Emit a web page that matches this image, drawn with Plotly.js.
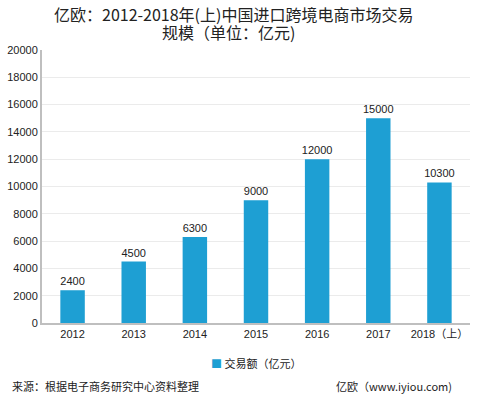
<!DOCTYPE html>
<html><head><meta charset="utf-8">
<script src="https://cdn.plot.ly/plotly-3.0.1.min.js"></script>
<style>body{margin:0;background:#fff}#c{width:482px;height:395px}</style>
</head><body><div id="c"></div>
<script>
const categories = ["2012","2013","2014","2015","2016","2017","2018（上）"];
const values = [2400,4500,6300,9000,12000,15000,10300];
const seriesName = "交易额（亿元）";
const yTicks = [0,2000,4000,6000,8000,10000,12000,14000,16000,18000,20000];
const titleLine1 = "亿欧：2012-2018年(上)中国进口跨境电商市场交易";
const titleLine2 = "规模（单位：亿元)";
const FONT = "Liberation Sans, Arial, Noto Sans CJK SC, sans-serif";
const CJK = "Noto Sans CJK SC, sans-serif";
const BAR = "#1e9fd3";

const trace = {
  type: "bar", x: categories, y: values, name: seriesName,
  marker: {color: BAR}, width: 0.4,
  text: values.map(String), textposition: "outside", cliponaxis: false, constraintext: "none",
  textfont: {size: 11, color: "#222", family: FONT},
  showlegend: false
};
const layout = {
  width: 482, height: 395,
  margin: {l: 42, r: 12, t: 50, b: 72},
  paper_bgcolor: "#fff", plot_bgcolor: "#fff",
  font: {family: FONT, size: 11, color: "#222"},
  xaxis: {type: "category", showline: true, linecolor: "#bfbfbf", linewidth: 2, ticks: "", showgrid: false,
    tickfont: {size: 11, color: "#222"}, fixedrange: true},
  yaxis: {range: [0, 20000], tickvals: yTicks, ticktext: yTicks.map(String), showline: true, linecolor: "#bfbfbf", linewidth: 2,
    gridcolor: "#ebebeb", gridwidth: 1, zeroline: false, ticks: "", tickfont: {size: 11, color: "#222"}},
  annotations: [
    {text: titleLine1, xref: "paper", yref: "paper", x: 0.447, y: 1.132, xanchor: "center", yanchor: "middle", showarrow: false,
      font: {size: 16, color: "#222", family: CJK}},
    {text: titleLine2, xref: "paper", yref: "paper", x: 0.435, y: 1.066, xanchor: "center", yanchor: "middle", showarrow: false,
      font: {size: 16, color: "#222", family: CJK}},
    {text: "<span style='color:" + BAR + "'>■</span> " + seriesName, xref: "paper", yref: "paper", x: 0.5, y: -0.147, xanchor: "center", yanchor: "middle", showarrow: false, font: {size: 11, color: "#222", family: CJK}},
    {text: "来源：根据电子商务研究中心资料整理", xref: "paper", yref: "paper", x: -0.075, y: -0.23, xanchor: "left", yanchor: "middle", showarrow: false, font: {size: 11, color: "#222", family: CJK}},
    {text: "亿欧（www.iyiou.com)", xref: "paper", yref: "paper", x: 0.962, y: -0.23, xanchor: "right", yanchor: "middle", showarrow: false, font: {size: 11, color: "#222", family: CJK}}
  ]
};
Plotly.newPlot("c", [trace], layout, {displayModeBar: false, staticPlot: true});
</script></body></html>
